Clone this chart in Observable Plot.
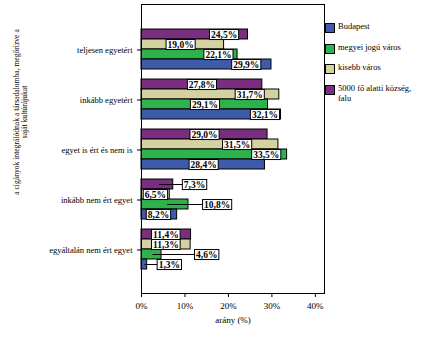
<!DOCTYPE html>
<html>
<head>
<meta charset="utf-8">
<script src="https://cdn.jsdelivr.net/npm/d3@7"></script>
<script src="https://cdn.jsdelivr.net/npm/@observablehq/plot@0.6"></script>
<style>
  html, body { margin: 0; padding: 0; background: white; }
  #wrap { position: relative; width: 432px; height: 360px; font-family: "Liberation Serif", serif; }
  #ytitle { position: absolute; left: 20px; top: 112px; width: 260px; transform: translate(-50%, -50%) rotate(-90deg);
            text-align: center; font-size: 7.6px; line-height: 7.5px; color: black; white-space: nowrap; }
  #legend { position: absolute; left: 325px; top: 23px; font-size: 8.5px; line-height: 10px; }
  .li { display: flex; align-items: flex-start; height: 20.5px; }
  .sw { width: 8px; height: 8px; border: 1px solid black; margin-right: 3px; flex: none; }
  .lt { width: 82px; margin-top: -2px; }
</style>
</head>
<body>
<div id="wrap">
  <div id="chart"></div>
  <div id="ytitle"></div>
  <div id="legend"></div>
</div>
<script>
const categories = ["teljesen egyetért", "inkább egyetért", "egyet is ért és nem is", "inkább nem ért egyet", "egyáltalán nem ért egyet"];
const seriesNames = ["Budapest", "megyei jogú város", "kisebb város", "5000 fő alatti község, falu"];
const seriesColors = ["#3E5BA9", "#2EB34C", "#D5D2A1", "#7B2D80"];
const budapest = [29.9, 32.1, 28.4, 8.2, 1.3];
const megyei   = [22.1, 29.1, 33.5, 10.8, 4.6];
const kisebb   = [19.0, 31.7, 31.5, 6.5, 11.3];
const falu     = [24.5, 27.8, 29.0, 7.3, 11.4];
// where SPSS placed each value label (in % units)
const budapestLabelAt = [24.1, 28.4, 14.3, 3.9, 6.4];
const megyeiLabelAt   = [17.7, 14.6, 28.7, 17.4, 15.0];
const kisebbLabelAt   = [9.0, 24.9, 22.0, 3.2, 5.6];
const faluLabelAt     = [19.0, 13.9, 14.5, 12.2, 5.6];
const xTicks = [0, 10, 20, 30, 40];
const yTitle = ["a cigányok integrálódnak a társadalomba, megőrizve a", "saját kultúrájukat"];
const xTitle = "arány (%)";

const seriesValues = [budapest, megyei, kisebb, falu];
const seriesLabelAt = [budapestLabelAt, megyeiLabelAt, kisebbLabelAt, faluLabelAt];
const stackOrder = [3, 2, 1, 0]; // top to bottom within a group

const rows = [];
const yDomain = [];
categories.forEach((c, ci) => {
  if (ci > 0) yDomain.push("gap" + ci);
  stackOrder.forEach(si => {
    const key = c + "|" + seriesNames[si];
    yDomain.push(key);
    rows.push({category: c, series: seriesNames[si], key, value: seriesValues[si][ci], labelAt: seriesLabelAt[si][ci]});
  });
});
const centerKeys = categories.map(c => c + "|" + seriesNames[2]);
const fmt = v => v.toFixed(1).replace(".", ",") + "%";
const leaders = rows.filter(d => d.labelAt - 3 > d.value);
const LABEL_INK = "#010101";

const chart = Plot.plot({
  width: 432,
  height: 335,
  marginTop: 4,
  marginLeft: 141,
  marginRight: 108,
  marginBottom: 42,
  style: {fontFamily: "Liberation Serif, serif", fontSize: "9px", background: "white", color: "black"},
  x: {domain: [0, 42.1]},
  y: {domain: yDomain, paddingInner: 0, paddingOuter: 1.15},
  color: {domain: seriesNames, range: seriesColors},
  marks: [
    Plot.barX(rows, {x: "value", y: "key", fill: "series", stroke: "black", strokeWidth: 1}),
    Plot.link(leaders, {x1: d => d.value * 0.55, x2: "labelAt", y1: "key", y2: "key", stroke: "black", strokeWidth: 1}),
    Plot.text(rows, {x: "labelAt", y: "key", text: d => fmt(d.value), fill: LABEL_INK, fontSize: 9.5, fontWeight: "bold"}),
    Plot.frame({stroke: "black", strokeWidth: 1}),
    Plot.axisX({ticks: xTicks, tickFormat: d => d + "%", tickSize: 4, label: null, fontSize: 9, fill: "black"}),
    Plot.axisY({ticks: centerKeys, tickFormat: k => k.split("|")[0], tickSize: 4, label: null, dy: 5.5, fontSize: 8.5, fill: "black"}),
    Plot.text([xTitle], {frameAnchor: "bottom", dy: 29, text: d => d, fontSize: 9, fill: "black"})
  ]
});
document.getElementById("chart").appendChild(chart);

// white boxes with black borders behind value labels
const texts = Array.from(chart.querySelectorAll("text")).filter(t => {
  const g = t.closest("g[fill]");
  return g && g.getAttribute("fill") === LABEL_INK;
});
texts.forEach(t => {
  const b = t.getBBox();
  const r = document.createElementNS("http://www.w3.org/2000/svg", "rect");
  const tr = t.getAttribute("transform");
  if (tr) r.setAttribute("transform", tr);
  r.setAttribute("x", b.x - 1.5);
  r.setAttribute("y", b.y);
  r.setAttribute("width", b.width + 3);
  r.setAttribute("height", b.height);
  r.setAttribute("fill", "white");
  r.setAttribute("stroke", "black");
  r.setAttribute("stroke-width", 1);
  t.parentNode.insertBefore(r, t);
});

document.getElementById("ytitle").innerHTML = yTitle.map(s => `<div>${s}</div>`).join("");
document.getElementById("legend").innerHTML = seriesNames.map((s, i) =>
  `<div class="li"><div class="sw" style="background:${seriesColors[i]}"></div><div class="lt">${s}</div></div>`).join("");
</script>
</body>
</html>
